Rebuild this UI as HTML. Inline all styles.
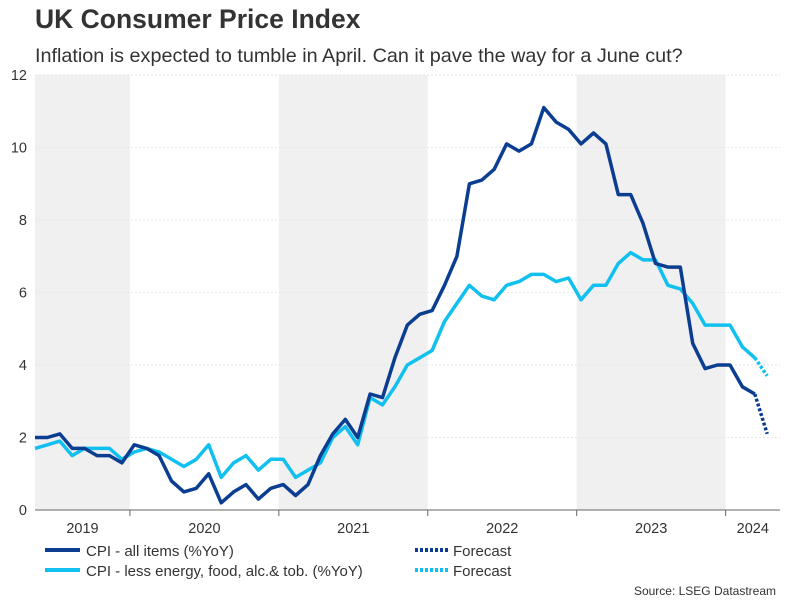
<!DOCTYPE html>
<html><head><meta charset="utf-8"><style>
body{margin:0;background:#fff;font-family:"Liberation Sans",Arial,sans-serif;}
#wrap{position:relative;width:801px;height:601px;overflow:hidden;}
</style></head><body>
<div id="wrap">
<svg id="chart" width="801" height="601" xmlns="http://www.w3.org/2000/svg">
<text x="35" y="28" font-size="26.5" font-weight="bold" fill="#333">UK Consumer Price Index</text>
<text x="35" y="62" font-size="19.8" fill="#333">Inflation is expected to tumble in April. Can it pave the way for a June cut?</text>
<g id="bands"></g><g id="grid"></g><g id="series"></g><g id="axes"></g>
<g>
<line x1="45" y1="550" x2="80" y2="550" stroke="#0b3d91" stroke-width="4"/>
<text x="86" y="556" font-size="15" fill="#333">CPI - all items (%YoY)</text>
<line x1="45" y1="570" x2="80" y2="570" stroke="#11c0ee" stroke-width="4"/>
<text x="86" y="576" font-size="15" fill="#333">CPI - less energy, food, alc.&amp; tob. (%YoY)</text>
<line x1="415" y1="550" x2="450" y2="550" stroke="#0b3d91" stroke-width="4" stroke-dasharray="3,2"/>
<text x="453" y="556" font-size="15" fill="#333">Forecast</text>
<line x1="415" y1="570" x2="450" y2="570" stroke="#11c0ee" stroke-width="4" stroke-dasharray="3,2"/>
<text x="453" y="576" font-size="15" fill="#333">Forecast</text>
</g>
<text x="776" y="595" font-size="12" fill="#333" text-anchor="end">Source: LSEG Datastream</text>
</svg>
</div>
<script>
const years = ["2019","2020","2021","2022","2023","2024"];
const yTicks = [0,2,4,6,8,10,12];
const cpiAll = [2.0,2.0,2.1,1.7,1.7,1.5,1.5,1.3,
1.8,1.7,1.5,0.8,0.5,0.6,1.0,0.2,0.5,0.7,0.3,0.6,
0.7,0.4,0.7,1.5,2.1,2.5,2.0,3.2,3.1,4.2,5.1,5.4,
5.5,6.2,7.0,9.0,9.1,9.4,10.1,9.9,10.1,11.1,10.7,10.5,
10.1,10.4,10.1,8.7,8.7,7.9,6.8,6.7,6.7,4.6,3.9,4.0,
4.0,3.4,3.2];
const cpiCore = [1.7,1.8,1.9,1.5,1.7,1.7,1.7,1.4,
1.6,1.7,1.6,1.4,1.2,1.4,1.8,0.9,1.3,1.5,1.1,1.4,
1.4,0.9,1.1,1.3,2.0,2.3,1.8,3.1,2.9,3.4,4.0,4.2,
4.4,5.2,5.7,6.2,5.9,5.8,6.2,6.3,6.5,6.5,6.3,6.4,
5.8,6.2,6.2,6.8,7.1,6.9,6.9,6.2,6.1,5.7,5.1,5.1,
5.1,4.5,4.2];
const forecastAll = [3.2,2.1];
const forecastCore = [4.2,3.7];
const firstMonthOffset = 4; // data starts May 2019

const X0=35, X1=780, Y0=510, Y1=75, step=12.41;
const xs = i => X0 + i*step;
const ys = v => Y0 - v/12*(Y0-Y1);
const NS="http://www.w3.org/2000/svg";
function mk(tag, parent, attrs){const e=document.createElementNS(NS,tag);for(const k in attrs)e.setAttribute(k,attrs[k]);document.getElementById(parent).appendChild(e);return e;}

years.forEach((y,k)=>{
  const startIdx = k*12 - firstMonthOffset - 0.35;
  const a = Math.max(X0, xs(startIdx)), b = Math.min(X1, xs(startIdx+12));
  if(k%2===0){
    const r=mk('rect','bands',{x:a,y:Y1,width:b-a,height:Y0-Y1,fill:'#f0f0f0'});
    
    
  }
  const t=mk('text','axes',{x:(a+b)/2,y:533,'font-size':14.5,fill:'#333','text-anchor':'middle'});
  t.textContent=y;
  
  
  if(k>0){
    const tk=mk('line','axes',{x1:a,x2:a,y1:Y0,y2:Y0+6,stroke:'#666','stroke-width':1});
    
    
  }
});
yTicks.forEach(v=>{
  const g=mk('line','grid',{x1:X0,x2:X1,y1:ys(v),y2:ys(v),stroke:'#e6e6e6','stroke-width':1,'stroke-dasharray':v===0?'':'2,2'});
  
  
  const t=mk('text','axes',{x:27,y:ys(v)+5,'font-size':14.5,fill:'#333','text-anchor':'end'});
  t.textContent=v;
  
  
});
const ax=mk('line','axes',{x1:X0,x2:X1,y1:Y0,y2:Y0,stroke:'#666','stroke-width':1});



function line(arr, start, color, dash, name){
  const d=arr.map((v,i)=>(i?'L':'M')+xs(start+i).toFixed(1)+' '+ys(v).toFixed(1)).join(' ');
  const p=mk('path','series',{d:d,fill:'none',stroke:color,'stroke-width':3.5,'stroke-linejoin':'round'});
  if(dash)p.setAttribute('stroke-dasharray',dash);
  
  
}
line(cpiCore,0,'#11c0ee','', 'line-cpi-core');
line(cpiAll,0,'#0b3d91','', 'line-cpi-all');
line(forecastCore,cpiCore.length-1,'#11c0ee','3,2','line-forecast-core');
line(forecastAll,cpiAll.length-1,'#0b3d91','3,2','line-forecast-all');
</script>
</body></html>
